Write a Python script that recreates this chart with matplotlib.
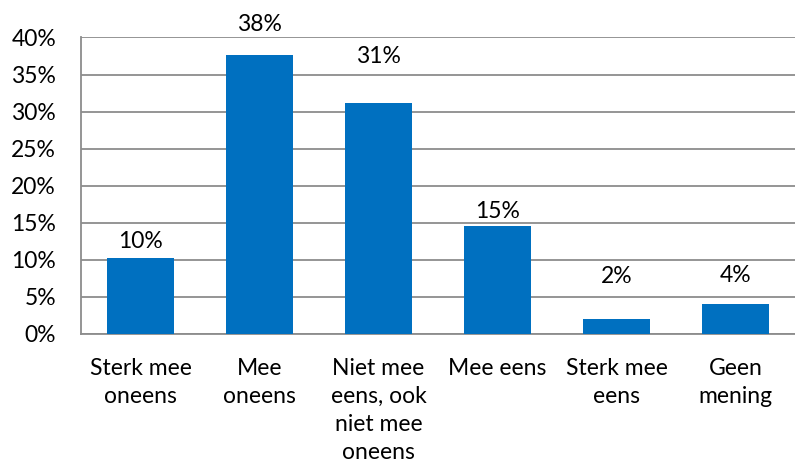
import matplotlib
matplotlib.use("Agg")
import matplotlib.pyplot as plt
from matplotlib.ticker import MultipleLocator, FuncFormatter

categories = ["Sterk mee\noneens", "Mee\noneens", "Niet mee\neens, ook\nniet mee\noneens",
              "Mee eens", "Sterk mee\neens", "Geen\nmening"]
values = [10.3, 37.6, 31.2, 14.6, 2.0, 4.1]

# vertical distance (pixels) of each value label above its bar
label_offsets = [16, 31, 46, 14, 43, 28]

bar_color = "#0070C0"
grid_color = "#8C8C8C"

plt.rcParams["font.family"] = ["Lato", "DejaVu Sans"]
fs = 16.5

fig = plt.figure(figsize=(7.95, 4.61), dpi=100)
ax = fig.add_axes([0.1019, 0.2755, 0.8981, 0.6432])

x = range(len(categories))
bars = ax.bar(x, values, width=0.57, color=bar_color, zorder=3)

for xi, v, off in zip(x, values, label_offsets):
    ax.annotate(f"{v:.0f}%", xy=(xi, v), xytext=(0, off), textcoords="offset pixels",
                ha="center", va="center", fontsize=fs, color="black")

ax.set_xlim(-0.5, len(categories) - 0.5)
ax.set_ylim(0, 40)
ax.yaxis.set_major_locator(MultipleLocator(5))
ax.yaxis.set_major_formatter(FuncFormatter(lambda v, _: f"{v:.0f}%"))
ax.grid(axis="y", color=grid_color, linewidth=1.3, zorder=0)
ax.set_axisbelow(True)

ax.set_xticks(list(x))
ax.set_xticklabels(categories, linespacing=1.41)
ax.tick_params(axis="x", length=0, pad=17, labelsize=fs)
ax.tick_params(axis="y", length=0, pad=18, labelsize=fs)

for side in ("top", "right"):
    ax.spines[side].set_visible(False)
for side in ("left", "bottom"):
    ax.spines[side].set_color(grid_color)
    ax.spines[side].set_linewidth(1.3)

fig.savefig("out.png", dpi=100)
